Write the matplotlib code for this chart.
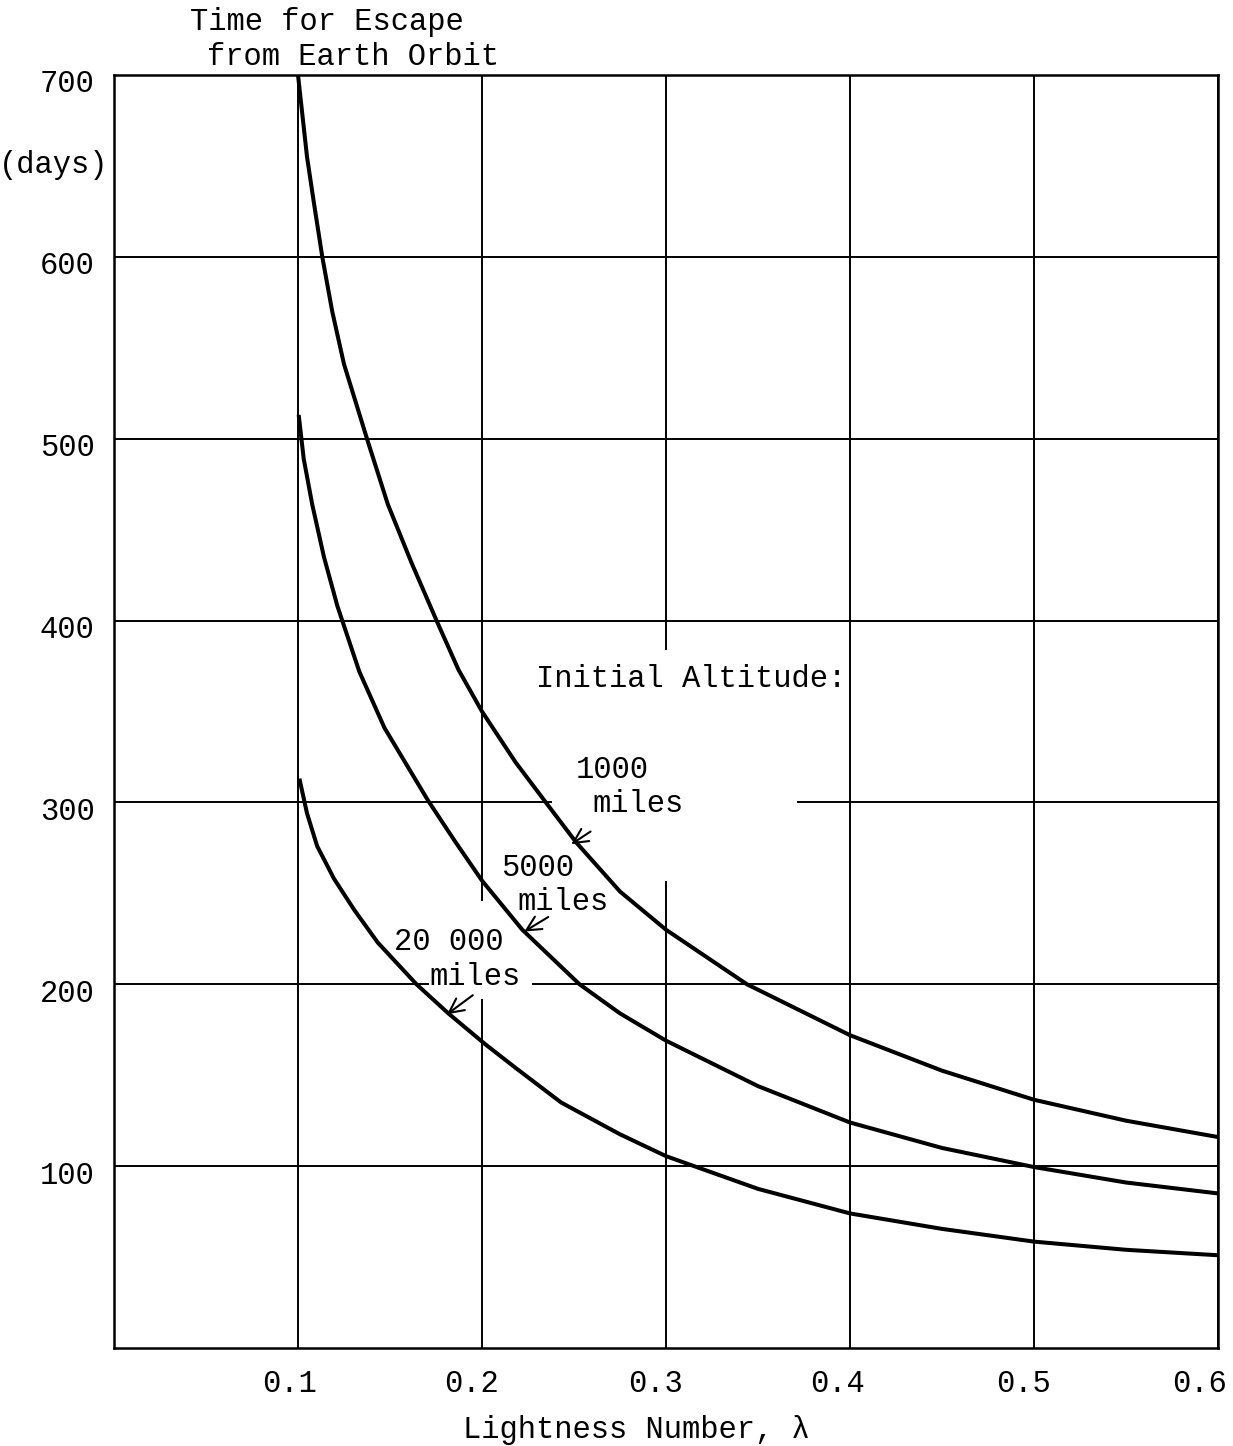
import matplotlib
matplotlib.use("Agg")
import matplotlib.pyplot as plt
from matplotlib.transforms import ScaledTranslation

plt.rcParams['font.family'] = ['Liberation Mono', 'DejaVu Sans Mono']
plt.rcParams['font.size'] = 22

# values: lightness number -> days to escape
lam_1000 = [0.100, 0.1049, 0.1086, 0.1132, 0.1186, 0.125, 0.1378, 0.1488, 0.1616, 0.1753,
            0.1872, 0.200, 0.2183, 0.2347, 0.2512, 0.275, 0.300, 0.344, 0.400, 0.450,
            0.500, 0.550, 0.600]
days_1000 = [700, 655, 630, 600, 570, 541, 499, 464, 432, 400,
             373, 350, 322, 300, 278, 251, 230, 200, 172, 152.5,
             136.5, 125, 116]

lam_5000 = [0.1005, 0.1031, 0.1077, 0.1141, 0.1214, 0.1333, 0.147, 0.1707, 0.1854, 0.200,
            0.2219, 0.253, 0.275, 0.300, 0.350, 0.400, 0.450, 0.500, 0.550, 0.600]
days_5000 = [512, 489, 464, 435, 408, 372, 341, 301, 278.5, 257,
             230, 200, 184, 169, 144, 124, 110, 99.5, 91, 85]

lam_20000 = [0.101, 0.1049, 0.1104, 0.1196, 0.1305, 0.1433, 0.1644, 0.1817, 0.2018, 0.2183,
             0.243, 0.275, 0.300, 0.350, 0.400, 0.450, 0.500, 0.550, 0.600]
days_20000 = [312, 294, 276, 258, 241, 223, 200, 184, 167, 154,
              135, 117.5, 105.5, 87.5, 74, 65.5, 58.5, 54, 51]

x_ticks = [0.1, 0.2, 0.3, 0.4, 0.5, 0.6]
y_ticks = [100, 200, 300, 400, 500, 600, 700]

W, H = 1233, 1446
fig = plt.figure(figsize=(W / 100, H / 100), dpi=100)
ax = fig.add_axes([114 / W, 1 - 1348 / H, (1218 - 114) / W, (1348 - 75) / H])
ax.set_xlim(0, 0.6)
ax.set_ylim(0, 700)

# grid drawn by hand so the breaks around the labels can be kept
v_gaps = {0.2: (192, 246), 0.3: (257, 384)}
h_gaps = {200: (0.171, 0.227), 300: (0.238, 0.371)}
for xv in x_ticks:
    if xv in v_gaps:
        lo, hi = v_gaps[xv]
        ax.vlines([xv, xv], [0, hi], [lo, 700], color='black', lw=1.4)
    else:
        ax.vlines(xv, 0, 700, color='black', lw=1.4)
for yv in y_ticks:
    if yv in h_gaps:
        lo, hi = h_gaps[yv]
        ax.hlines([yv, yv], [0, hi], [lo, 0.6], color='black', lw=1.4)
    else:
        ax.hlines(yv, 0, 0.6, color='black', lw=1.4)

ax.plot(lam_1000, days_1000, color='black', lw=2.9, solid_joinstyle='round')
ax.plot(lam_5000, days_5000, color='black', lw=2.9, solid_joinstyle='round')
ax.plot(lam_20000, days_20000, color='black', lw=2.9, solid_joinstyle='round')

ax.set_xticks(x_ticks)
ax.set_xticklabels(['0.1', '0.2', '0.3', '0.4', '0.5', '0.6'])
ax.set_yticks(y_ticks)
ax.set_yticklabels([str(v) for v in y_ticks])
ax.tick_params(axis='both', length=0)
ax.tick_params(axis='x', pad=15)
ax.tick_params(axis='y', pad=14)
for s in ax.spines.values():
    s.set_linewidth(1.8)

# typed labels sit a little left of / below their grid lines
x_shift = [-8, -10, -10, -12, -11, -19]
for lab, dx in zip(ax.get_xticklabels(), x_shift):
    lab.set_transform(lab.get_transform() + ScaledTranslation(dx / 100, 0, fig.dpi_scale_trans))
for lab in ax.get_yticklabels():
    lab.set_transform(lab.get_transform() + ScaledTranslation(0, -6 / 100, fig.dpi_scale_trans))

# curve labels and arrows
ax.text(0.2295, 368, 'Initial Altitude:', ha='left', va='center')
ax.text(0.271, 318, '1000', ha='center', va='center')
ax.text(0.285, 299, 'miles', ha='center', va='center')
ax.text(0.230, 264, '5000', ha='center', va='center')
ax.text(0.244, 245, 'miles', ha='center', va='center')
ax.text(0.182, 223, '20 000', ha='center', va='center')
ax.text(0.196, 204, 'miles', ha='center', va='center')

arrow = dict(arrowstyle='->', lw=1.5, color='black', mutation_scale=26,
             shrinkA=0, shrinkB=0)
ax.annotate('', xy=(0.2485, 277), xytext=(0.259, 284), arrowprops=arrow)
ax.annotate('', xy=(0.223, 229), xytext=(0.236, 237), arrowprops=arrow)
ax.annotate('', xy=(0.181, 183.5), xytext=(0.195, 194), arrowprops=arrow)

fig.text(190 / W, 1 - 22 / H, 'Time for Escape', ha='left', va='center')
fig.text(207 / W, 1 - 57 / H, 'from Earth Orbit', ha='left', va='center')
fig.text(108 / W, 1 - 165 / H, '(days)', ha='right', va='center')
fig.text(636 / W, 1 - 1430 / H, 'Lightness Number, λ', ha='center', va='center')

fig.savefig('out.png', dpi=100, facecolor='white')
